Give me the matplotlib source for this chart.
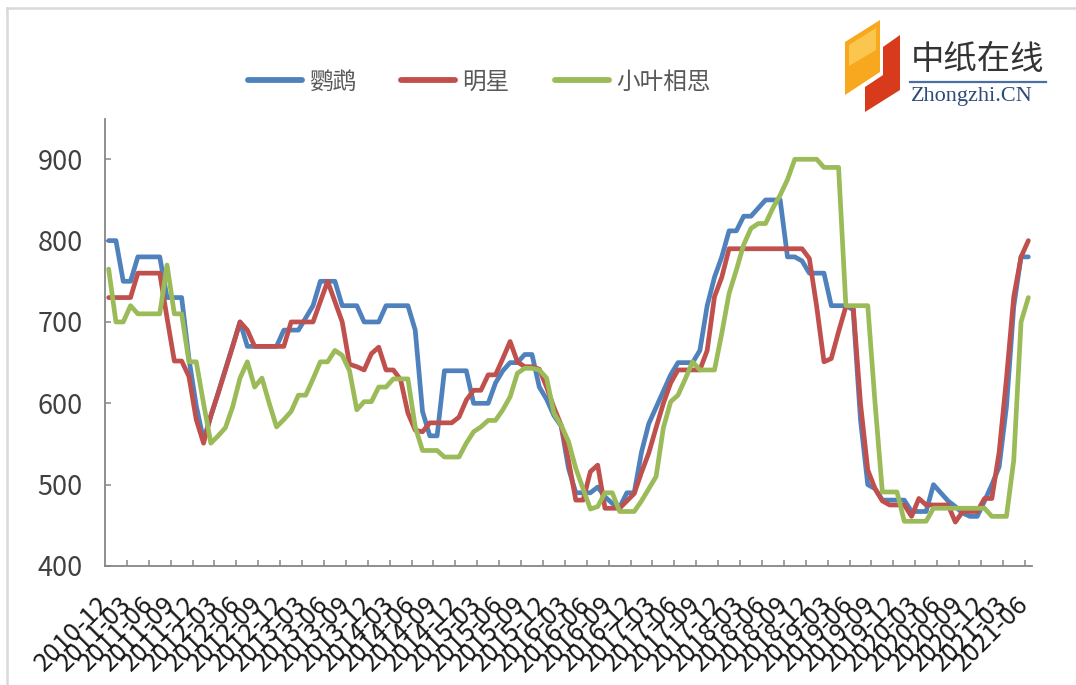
import matplotlib
matplotlib.use('Agg')
import matplotlib.pyplot as plt
import matplotlib.transforms as mtransforms
from matplotlib.patches import Polygon
from matplotlib.lines import Line2D

plt.rcParams['font.family'] = ['Noto Sans CJK SC', 'DejaVu Sans']

# ---------------- data (monthly, 2010-12 .. 2021-06) ----------------
tick_labels = ["2010-12", "2011-03", "2011-06", "2011-09", "2011-12", "2012-03",
               "2012-06", "2012-09", "2012-12", "2013-03", "2013-06", "2013-09",
               "2013-12", "2014-03", "2014-06", "2014-09", "2014-12", "2015-03",
               "2015-06", "2015-09", "2015-12", "2016-03", "2016-06", "2016-09",
               "2016-12", "2017-03", "2017-06", "2017-09", "2017-12", "2018-03",
               "2018-06", "2018-09", "2018-12", "2019-03", "2019-06", "2019-09",
               "2019-12", "2020-03", "2020-06", "2020-09", "2020-12", "2021-03",
               "2021-06"]

series_names = ["鹦鹉", "明星", "小叶相思"]

yingwu = [800, 800, 750, 750, 780, 780, 780, 780, 730, 730,
          730, 655, 597, 555, 584, 613, 642, 671, 700, 670,
          670, 670, 670, 670, 690, 690, 690, 705, 720, 750,
          750, 750, 720, 720, 720, 700, 700, 700, 720, 720,
          720, 720, 690, 590, 560, 560, 640, 640, 640, 640,
          600, 600, 600, 625, 640, 650, 650, 660, 660, 620,
          605, 585, 572, 520, 490, 490, 490, 497, 485, 477,
          472, 490, 490, 540, 575, 595, 615, 635, 650, 650,
          650, 665, 720, 755, 780, 812, 812, 830, 830, 840,
          850, 850, 850, 780, 780, 775, 760, 760, 760, 720,
          720, 720, 715, 580, 500, 495, 481, 481, 481, 481,
          467, 467, 467, 500, 490, 480, 473, 465, 461, 461,
          480, 500, 522, 596, 719, 780, 780]

mingxing = [730, 730, 730, 730, 760, 760, 760, 760, 705, 652,
            652, 633, 580, 551, 585, 612, 641, 670, 700, 690,
            670, 670, 670, 670, 670, 700, 700, 700, 700, 725,
            750, 725, 700, 648, 645, 641, 661, 669, 641, 641,
            629, 588, 567, 565, 576, 576, 576, 576, 583, 604,
            616, 616, 635, 635, 655, 676, 651, 645, 645, 642,
            620, 595, 573, 530, 481, 481, 516, 524, 471, 471,
            471, 480, 489, 515, 539, 570, 600, 625, 641, 641,
            641, 641, 665, 731, 755, 790, 790, 790, 790, 790,
            790, 790, 790, 790, 790, 790, 778, 719, 651, 655,
            688, 719, 719, 600, 518, 495, 480, 475, 475, 475,
            461, 483, 475, 475, 475, 475, 454, 467, 467, 467,
            483, 483, 540, 630, 731, 780, 800]

xiaoye = [765, 700, 700, 720, 710, 710, 710, 710, 770, 710,
          710, 651, 651, 600, 551, 560, 570, 596, 631, 651,
          620, 631, 600, 571, 580, 590, 610, 610, 630, 651,
          651, 665, 659, 640, 592, 602, 602, 620, 620, 630,
          630, 630, 571, 542, 542, 542, 534, 534, 534, 551,
          565, 571, 579, 579, 592, 608, 637, 643, 643, 641,
          631, 588, 573, 553, 520, 495, 470, 473, 490, 490,
          467, 467, 467, 480, 495, 510, 570, 602, 610, 630,
          651, 641, 641, 641, 686, 735, 764, 795, 815, 821,
          821, 840, 856, 875, 900, 900, 900, 900, 890, 890,
          890, 720, 720, 720, 720, 600, 491, 491, 491, 455,
          455, 455, 455, 471, 471, 471, 471, 471, 471, 471,
          471, 461, 461, 461, 530, 700, 730]

y_ticks = [400, 500, 600, 700, 800, 900]
colors = ['#4F81BD', '#C0504D', '#9BBB59']

# ---------------- figure ----------------
W, H = 1076, 685
fig = plt.figure(figsize=(W / 100, H / 100), dpi=100)
fig.patch.set_facecolor('white')

def fx(px):
    return px / W

def fy(py):
    return 1 - py / H

ax = fig.add_axes([fx(105), fy(566), fx(1032) - fx(105), fy(118.6) - fy(566)])

x = list(range(len(yingwu)))
lines = []
for vals, name, c in zip([yingwu, mingxing, xiaoye], series_names, colors):
    ln, = ax.plot(x, vals, color=c, lw=3.4, solid_joinstyle='round',
                  solid_capstyle='round', label=name)
    lines.append(ln)

ax.set_xlim(-0.5, len(x) - 0.5)
ax.set_ylim(400, 950)

for s in ['top', 'right']:
    ax.spines[s].set_visible(False)
for s in ['left', 'bottom']:
    ax.spines[s].set_color('#868686')
    ax.spines[s].set_linewidth(1.3)

ax.set_yticks(y_ticks)
ax.set_yticklabels([str(v) for v in y_ticks])
ax.tick_params(axis='y', direction='in', length=4, width=1.1, color='#868686',
               pad=16, labelsize=19.5, labelcolor='#404040')

ax.set_xticks([3 * k for k in range(len(tick_labels))])
ax.set_xticks([3 * k - 0.5 for k in range(1, len(tick_labels))], minor=True)
ax.tick_params(axis='x', which='major', length=0, pad=25, labelsize=18.5,
               labelcolor='#1a1a1a')
ax.tick_params(axis='x', which='minor', direction='in', length=4, width=1.1,
               color='#868686')
ax.set_xticklabels(tick_labels, rotation=45, ha='right', va='center',
                   rotation_mode='anchor')
offset = mtransforms.ScaledTranslation(-3 / 100, 0, fig.dpi_scale_trans)
for lab in ax.get_xticklabels():
    lab.set_transform(lab.get_transform() + offset)

leg = ax.legend(handles=lines, loc='center',
                bbox_to_anchor=(fx(479), fy(82)), bbox_transform=fig.transFigure,
                ncol=3, frameon=False, handlelength=2.3,
                prop={'family': ['Noto Sans CJK SC', 'DejaVu Sans'], 'size': 17},
                handletextpad=0.3, columnspacing=1.9, labelcolor='#595959')
for h in leg.get_lines():
    h.set_linewidth(4.2)
    h.set_solid_capstyle('round')

# ---------------- frame ----------------
fig.add_artist(Line2D([fx(7), fx(7)], [0, fy(8)], color='#d9d9d9', lw=1.8,
                      transform=fig.transFigure))
fig.add_artist(Line2D([fx(7), 1], [fy(8), fy(8)], color='#d9d9d9', lw=1.8,
                      transform=fig.transFigure))

# ---------------- logo ----------------
def poly(pts, color):
    p = Polygon([(fx(a), fy(b)) for a, b in pts], closed=True, facecolor=color,
                edgecolor='none', transform=fig.transFigure)
    fig.add_artist(p)

poly([(845, 42), (880, 20), (880, 72), (845, 95)], '#F8A81E')
poly([(849, 45), (876, 28), (876, 50), (849, 66)], '#FBC64E')
poly([(865, 87), (883, 75), (883, 47), (900, 35), (900, 90), (865, 112)], '#D83A1C')

fig.text(fx(911), fy(59), '中纸在线', fontsize=24, color='#333333',
         ha='left', va='center', family=['Noto Sans CJK SC', 'DejaVu Sans'])
fig.add_artist(Line2D([fx(910), fx(1046)], [fy(82), fy(82)], color='#4a6fa5',
                      lw=1.6, transform=fig.transFigure))
fig.text(fx(911), fy(96), 'Zhongzhi.CN', fontsize=16, color='#2d4a7a',
         ha='left', va='center', family=['Liberation Serif', 'DejaVu Serif'])

fig.savefig('out.png', dpi=100, facecolor='white')
